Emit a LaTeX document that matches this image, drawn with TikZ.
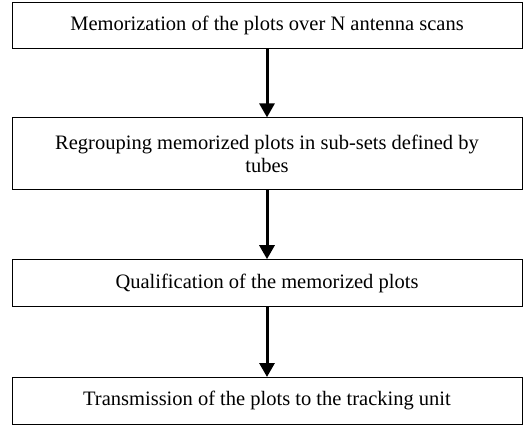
\documentclass[tikz,border=0pt]{standalone}
\usepackage{fontspec}
\setmainfont{Liberation Serif}
\usetikzlibrary{arrows.meta,positioning}

\begin{document}
\begin{tikzpicture}[x=1pt,y=1pt,->,>={Triangle[width=15pt,length=14pt]},node distance=69pt]
                  \tikzstyle{stepbox}=[draw,line width=0.8pt,minimum width=510pt,minimum height=46pt,inner sep=0pt,align=center,font=\fontsize{20.5}{22.5}\selectfont]

                  \useasboundingbox (0,0) rectangle (528,-424);

                  \node[stepbox]                      (memo)     at (267,-25)        {Memorization of the plots over N antenna scans};
                  \node[stepbox,minimum height=72pt]  (regroup)  [below=of memo]     {Regrouping memorized plots in sub-sets defined by\\tubes};
                  \node[stepbox,minimum height=47pt]  (qualif)   [below=of regroup]  {Qualification of the memorized plots};
                  \node[stepbox,minimum height=46.5pt] (transmit) [below=70pt of qualif] {Transmission of the plots to the tracking unit};

                  \path[line width=3pt] (memo) edge (regroup)
                        (regroup) edge (qualif)
                        (qualif) edge (transmit);
                \end{tikzpicture}
\end{document}
